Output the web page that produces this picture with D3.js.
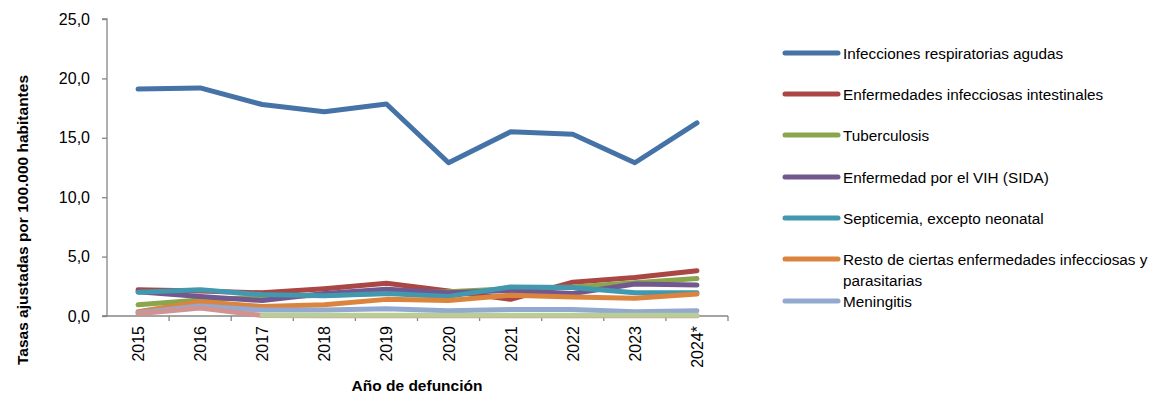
<!DOCTYPE html>
<html>
<head>
<meta charset="utf-8">
<script src="https://cdn.jsdelivr.net/npm/d3@7"></script>
<style>
  html, body { margin: 0; padding: 0; background: #fff; }
  svg { display: block; font-family: "Liberation Sans", Arial, sans-serif; }
</style>
</head>
<body>
<svg id="chart" width="1151" height="395"></svg>
<script>
// Years of death (2024 provisional)
const years = ["2015", "2016", "2017", "2018", "2019", "2020", "2021", "2022", "2023", "2024*"];
const yTicks = [0, 5, 10, 15, 20, 25];

// Adjusted rates per 100,000 inhabitants
const respiratorias = [19.1, 19.2, 17.8, 17.2, 17.85, 12.9, 15.5, 15.3, 12.9, 16.25];
const intestinales  = [2.2, 2.1, 1.95, 2.3, 2.75, 2.1, 1.4, 2.85, 3.25, 3.8];
const tuberculosis  = [0.95, 1.35, 1.6, 1.75, 1.9, 2.05, 2.3, 2.45, 2.8, 3.15];
const vih           = [2.05, 1.65, 1.3, 1.9, 2.25, 1.95, 2.15, 1.9, 2.7, 2.6];
const septicemia    = [2.0, 2.2, 1.8, 1.7, 1.9, 1.65, 2.45, 2.4, 1.95, 1.95];
const resto         = [0.35, 1.2, 0.8, 0.95, 1.4, 1.3, 1.75, 1.6, 1.5, 1.85];
const meningitis    = [0.28, 0.85, 0.5, 0.5, 0.6, 0.45, 0.55, 0.55, 0.35, 0.45];
const serieRosa     = [0.18, 0.68, 0.05, 0.03, 0.03, 0.03, 0.03, 0.03, 0.03, 0.03];
const serieVerdeClaro = [null, null, 0.06, 0.06, 0.06, 0.06, 0.06, 0.06, 0.06, 0.06];

const seriesNames = [
  "Infecciones respiratorias agudas",
  "Enfermedades infecciosas intestinales",
  "Tuberculosis",
  "Enfermedad por el VIH (SIDA)",
  "Septicemia, excepto neonatal",
  "Resto de ciertas enfermedades infecciosas y parasitarias",
  "Meningitis",
  "",
  ""
];
const seriesValues = [respiratorias, intestinales, tuberculosis, vih, septicemia, resto, meningitis, serieRosa, serieVerdeClaro];
const colors = ["#4572A7", "#AA4643", "#89A54E", "#71588F", "#4198AF", "#DB843D", "#93A9CF", "#D19392", "#B9CD96"];

const svg = d3.select("#chart");
const plotLeft = 107, plotRight = 728, plotTop = 19, plotBottom = 316;
const fontSize = 16;
const legendFontSize = 15.3;

const x = d3.scaleBand().domain(years).range([plotLeft, plotRight]);
const y = d3.scaleLinear().domain([0, 25]).range([plotBottom, plotTop]);
const axisColor = "#868686";

// Y axis
const yAxis = svg.append("g").attr("transform", `translate(${plotLeft},0)`)
  .call(d3.axisLeft(y).tickValues(yTicks).tickSize(5).tickPadding(12)
    .tickFormat(d => d3.format(".1f")(d).replace(".", ",")));
yAxis.select(".domain").attr("stroke", axisColor).attr("stroke-width", 1.3).attr("d", `M-5,${plotTop}H0V${plotBottom}H-5`);
yAxis.selectAll(".tick line").attr("stroke", axisColor).attr("stroke-width", 1.3);
yAxis.selectAll(".tick text").attr("font-size", fontSize).attr("fill", "#000")
  .attr("font-family", "Liberation Sans, Arial, sans-serif");

// X axis: ticks sit on the category boundaries
const xAxis = svg.append("g").attr("transform", `translate(0,${plotBottom})`);
xAxis.append("line").attr("x1", plotLeft - 4).attr("x2", plotRight).attr("y1", 0).attr("y2", 0)
  .attr("stroke", axisColor).attr("stroke-width", 1.3);
xAxis.selectAll("line.tk").data(years).enter().append("line").attr("class", "tk")
  .attr("x1", d => x(d) + x.bandwidth()).attr("x2", d => x(d) + x.bandwidth())
  .attr("y1", 0).attr("y2", 5).attr("stroke", axisColor).attr("stroke-width", 1.3);
xAxis.selectAll("text").data(years).enter().append("text")
  .attr("transform", d => `translate(${x(d) + x.bandwidth() / 2 + 6},10) rotate(-90)`)
  .attr("text-anchor", "end").attr("font-size", fontSize).attr("fill", "#000").text(d => d);

// Axis titles
svg.append("text").attr("transform", "translate(28,220) rotate(-90)")
  .attr("text-anchor", "middle").attr("font-size", 15.5).attr("font-weight", "bold").text("Tasas ajustadas por 100.000 habitantes");
svg.append("text").attr("x", 417).attr("y", 391)
  .attr("text-anchor", "middle").attr("font-size", 15.5).attr("font-weight", "bold").text("Año de defunción");

// Lines
const line = d3.line()
  .defined(d => d.v !== null)
  .x(d => x(d.year) + x.bandwidth() / 2)
  .y(d => y(d.v));

seriesValues.forEach((vals, i) => {
  svg.append("path")
    .datum(vals.map((v, j) => ({ year: years[j], v })))
    .attr("fill", "none").attr("stroke", colors[i]).attr("stroke-width", 5)
    .attr("stroke-linejoin", "round").attr("stroke-linecap", "round")
    .attr("d", line);
});

// Legend
const legendRows = [
  { i: 0, y: 53, lines: ["Infecciones respiratorias agudas"] },
  { i: 1, y: 94, lines: ["Enfermedades infecciosas intestinales"] },
  { i: 2, y: 135, lines: ["Tuberculosis"] },
  { i: 3, y: 177, lines: ["Enfermedad por el VIH (SIDA)"] },
  { i: 4, y: 218, lines: ["Septicemia, excepto neonatal"] },
  { i: 5, y: 259, lines: ["Resto de ciertas enfermedades infecciosas y", "parasitarias"] },
  { i: 6, y: 301, lines: ["Meningitis"] }
];
const legend = svg.append("g");
legendRows.forEach(r => {
  legend.append("line").attr("x1", 785).attr("x2", 838).attr("y1", r.y).attr("y2", r.y)
    .attr("stroke", colors[r.i]).attr("stroke-width", 5).attr("stroke-linecap", "round");
  r.lines.forEach((t, k) => {
    legend.append("text").attr("x", 843).attr("y", r.y + 6 + k * 21)
      .attr("font-size", legendFontSize).attr("fill", "#000").text(t);
  });
});
</script>
</body>
</html>
